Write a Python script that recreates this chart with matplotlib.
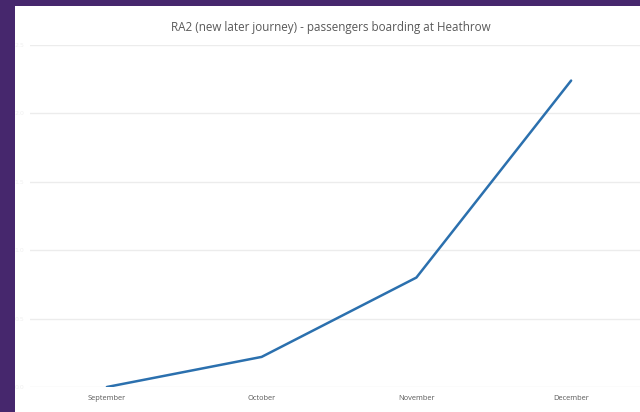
import matplotlib
matplotlib.use("Agg")
import matplotlib.pyplot as plt
from matplotlib.patches import Rectangle

# data
months = ["September", "October", "November", "December"]
passengers = [0.0, 0.22, 0.80, 2.24]
y_ticks = [0.0, 0.5, 1.0, 1.5, 2.0, 2.5]
title = "RA2 (new later journey) - passengers boarding at Heathrow"

W, H = 640, 412
fig = plt.figure(figsize=(W / 100, H / 100), dpi=100)
fig.patch.set_facecolor("#46276d")
# white slide panel
fig.patches.append(Rectangle((15 / W, 0), 1, (H - 6) / H, transform=fig.transFigure,
                             facecolor="white", edgecolor="none", zorder=-5))

x0, x1 = 29.5, 648.5
yb, yt = 387, 45
ax = fig.add_axes([x0 / W, (H - yb) / H, (x1 - x0) / W, (yb - yt) / H])
ax.set_facecolor("none")
ax.set_zorder(2)

xs = list(range(len(months)))
ax.plot(xs, passengers, color="#2b70ae", linewidth=1.8, solid_capstyle="round")

ax.set_xlim(-0.5, len(months) - 0.5)
ax.set_ylim(y_ticks[0], y_ticks[-1])
ax.set_xticks(xs)
ax.set_xticklabels(months, fontsize=5.4, color="#595959", family="Open Sans")
ax.set_yticks(y_ticks)
ax.set_yticklabels(["%.1f" % v for v in y_ticks], fontsize=4.5, color="#f0f0f0")
ax.tick_params(axis="x", length=0, pad=5.5)
ax.tick_params(axis="y", length=0, pad=4)
ax.grid(axis="y", color="#ececec", linewidth=1.0)
ax.set_axisbelow(True)
for s in ax.spines.values():
    s.set_visible(False)

fig.text(331 / W, (H - 28) / H, title, ha="center", va="center",
         fontsize=8.4, color="#595959", family="Open Sans", zorder=3)

fig.savefig("out.png", dpi=100)
